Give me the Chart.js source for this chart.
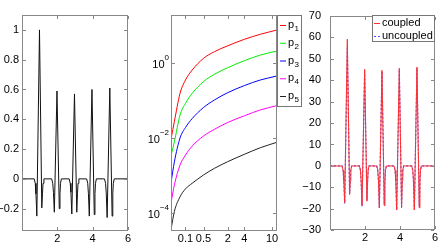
<!DOCTYPE html>
<html>
<head>
<meta charset="utf-8">
<script src="https://cdn.jsdelivr.net/npm/chart.js@4.4.1/dist/chart.umd.min.js"></script>
<style>
  html, body { margin: 0; padding: 0; background: #fff; }
  #wrap { position: relative; width: 440px; height: 246px; overflow: hidden; }
  canvas { position: absolute; top: 0; }
</style>
</head>
<body>
<div id="wrap">
  <canvas id="c1" width="140" height="246" style="left:0px"></canvas>
  <canvas id="c2" width="165" height="246" style="left:140px"></canvas>
  <canvas id="c3" width="145" height="246" style="left:295px"></canvas>
</div>
<script>
// ---- data ----

// left + right panels: time axis of the spike trains
const tSpikes = [0, 0.69, 0.75, 0.79, 0.84, 0.99, 1.12, 1.16, 1.19, 1.24,
  1.68, 1.74, 1.78, 1.83, 1.98, 2.11, 2.15, 2.18, 2.23,
  2.67, 2.73, 2.77, 2.82, 2.97, 3.10, 3.14, 3.17, 3.22,
  3.66, 3.72, 3.76, 3.81, 3.96, 4.09, 4.13, 4.16, 4.21,
  4.67, 4.73, 4.77, 4.82, 4.97, 5.10, 5.14, 5.17, 5.22, 6];

const signal = [0, 0, -0.03, -0.10, -0.25, 1.0, -0.195, -0.10, -0.03, 0,
  0, -0.03, -0.09, -0.224, 0.59, -0.2, -0.1, -0.03, 0,
  0, -0.03, -0.09, -0.236, 0.57, -0.224, -0.1, -0.03, 0,
  0, -0.03, -0.1, -0.25, 0.60, -0.24, -0.1, -0.03, 0,
  0, -0.03, -0.1, -0.26, 0.61, -0.25, -0.1, -0.03, 0, 0];

const coupled = [0, 0, -2, -7, -17, 59, -13.3, -7, -2, 0,
  0, -2, -7, -18.4, 45, -16.4, -7, -2, 0,
  0, -2, -7, -19.5, 44.5, -18.5, -7, -2, 0,
  0, -2, -7, -20.5, 45.5, -19.5, -7, -2, 0,
  0, -2, -7, -20.5, 46, -19.5, -7, -2, 0, 0];

const uncoupled = [0, 0, -2, -7, -17.5, 55.5, -13, -7, -2, 0,
  0, -2, -7, -18.8, 44, -16, -7, -2, 0,
  0, -2, -7, -19.5, 44, -18, -7, -2, 0,
  0, -2, -7, -20.5, 45, -19, -7, -2, 0,
  0, -2, -7, -20.5, 45.5, -19, -7, -2, 0, 0];

// middle panel: growth curves on a log axis
const tGrowth = [0.0105, 0.02, 0.05, 0.1, 0.2, 0.5, 1, 2, 4, 7, 11.5];
const p1 = [0.01, 0.0275, 0.155, 0.352, 0.65, 1.33, 2.0, 2.88, 4.27, 5.82, 7.59];
const p2 = [0.0036, 0.0079, 0.041, 0.084, 0.155, 0.318, 0.5, 0.75, 1.15, 1.63, 2.09];
const p3 = [0.0007, 0.0023, 0.01, 0.019, 0.033, 0.065, 0.103, 0.162, 0.249, 0.352, 0.45];
const p4 = [0.0002, 0.00056, 0.0019, 0.0035, 0.0061, 0.0113, 0.017, 0.026, 0.039, 0.056, 0.073];
const p5 = [0.000039, 0.00011, 0.00027, 0.00044, 0.00062, 0.00103, 0.00155, 0.00234, 0.00366, 0.0055, 0.0077];
const growthNames = ['p_1', 'p_2', 'p_3', 'p_4', 'p_5'];

// tick labels
const xTicksSpikes = [2, 4, 6];
const yTicksLeft = [-0.2, 0, 0.2, 0.4, 0.6, 0.8, 1];
const xTicksGrowth = [0.1, 0.5, 2, 4, 10];
const yTicksGrowth = [1e-4, 1e-2, 1];
const yTicksRight = [-30, -20, -10, 0, 10, 20, 30, 40, 50, 60, 70];

const FONT = "'Liberation Sans', Arial, sans-serif";
Chart.defaults.font.family = FONT;
Chart.defaults.font.size = 11;
Chart.defaults.color = '#000';

const minus = v => (v < 0 ? '\u2212' + Math.abs(v) : String(v));
const pts = (xs, ys) => xs.map((x, i) => ({ x: x, y: ys[i] }));

// power-law x axis used by the middle panel
const POW = 0.3;
class PowerScale extends Chart.LinearScale {
  getPixelForValue(value) {
    if (value === null || value === undefined) return NaN;
    const f = v => Math.pow(Math.max(v, 0), POW);
    return this.getPixelForDecimal((f(value) - f(this.min)) / (f(this.max) - f(this.min)));
  }
  getValueForPixel(pixel) {
    const d = this.getDecimalForPixel(pixel);
    const f0 = Math.pow(this.min, POW), f1 = Math.pow(this.max, POW);
    return Math.pow(f0 + d * (f1 - f0), 1 / POW);
  }
}
PowerScale.id = 'power';
PowerScale.defaults = Chart.LinearScale.defaults;
Chart.register(PowerScale);

// matlab-ish box, inward ticks, boxed legend, 10^n labels
const matlabAxes = {
  id: 'matlabAxes',
  afterDraw(chart, args, opts) {
    const ctx = chart.ctx, a = chart.chartArea;
    const xs = chart.scales.x, ys = chart.scales.y;
    const L0 = Math.round(a.left), R0 = Math.round(a.right) - 1;
    const T0 = Math.round(a.top), B0 = Math.round(a.bottom) - 1;
    ctx.save();
    ctx.fillStyle = '#888';
    // box
    ctx.fillRect(L0, T0, R0 - L0 + 1, 1);
    ctx.fillRect(L0, B0, R0 - L0 + 1, 1);
    ctx.fillRect(L0, T0, 1, B0 - T0 + 1);
    ctx.fillRect(R0, T0, 1, B0 - T0 + 1);
    // inward ticks on all four sides
    xs.ticks.forEach(t => {
      const px = Math.round(xs.getPixelForValue(t.value));
      ctx.fillRect(px, B0 - 3, 1, 3);
      ctx.fillRect(px, T0 + 1, 1, 3);
    });
    ys.ticks.forEach(t => {
      const py = Math.round(ys.getPixelForValue(t.value));
      ctx.fillRect(L0 + 1, py, 3, 1);
      ctx.fillRect(R0 - 3, py, 3, 1);
    });

    if (opts.expLabels) {
      ctx.fillStyle = '#000';
      ctx.textAlign = 'right';
      ctx.textBaseline = 'middle';
      ys.ticks.forEach(t => {
        const py = ys.getPixelForValue(t.value);
        const e = minus(Math.round(Math.log10(t.value)));
        ctx.font = '8px ' + FONT;
        const ew = ctx.measureText(e).width;
        const right = a.left - 2;
        ctx.fillText(e, right, py - 5);
        ctx.font = '11px ' + FONT;
        ctx.fillText('10', right - ew, py + 2);
      });
    }

    const L = opts.legend;
    if (L) {
      ctx.fillStyle = '#fff';
      ctx.fillRect(L.x, L.y, L.w, L.h);
      ctx.strokeStyle = '#777';
      ctx.lineWidth = 1;
      ctx.strokeRect(L.x + 0.5, L.y + 0.5, L.w - 1, L.h - 1);
      ctx.textAlign = 'left';
      ctx.textBaseline = 'middle';
      chart.data.datasets.forEach((ds, i) => {
        const y = L.row0 + i * L.step;
        ctx.strokeStyle = ds.borderColor;
        ctx.setLineDash(ds.borderDash || []);
        ctx.beginPath();
        ctx.moveTo(L.x + L.line0, y + 0.5);
        ctx.lineTo(L.x + L.line1, y + 0.5);
        ctx.stroke();
        ctx.setLineDash([]);
        const parts = ds.label.split('_');
        ctx.fillStyle = '#000';
        ctx.font = '11px ' + FONT;
        ctx.fillText(parts[0], L.x + L.text, y);
        if (parts[1]) {
          const w = ctx.measureText(parts[0]).width;
          ctx.font = '8px ' + FONT;
          ctx.fillText(parts[1], L.x + L.text + w + 0.5, y + 4);
        }
      });
    }
    ctx.restore();
  }
};

function axisX(min, max, ticks, type) {
  return {
    type: type || 'linear', min: min, max: max,
    grid: { display: false, drawTicks: false }, border: { display: false },
    afterBuildTicks: s => { s.ticks = ticks.map(v => ({ value: v })); },
    afterFit: s => { s.height = 15; },
    ticks: { padding: 1, autoSkip: false, maxRotation: 0, callback: v => minus(v) }
  };
}
function axisY(min, max, ticks, width, pad, type, cb) {
  return {
    type: type || 'linear', min: min, max: max,
    grid: { display: false, drawTicks: false }, border: { display: false },
    afterBuildTicks: s => { s.ticks = ticks.map(v => ({ value: v })); },
    afterFit: s => { s.width = width; },
    ticks: { padding: pad, autoSkip: false, callback: cb || (v => minus(v)) }
  };
}
const base = {
  responsive: false,
  animation: false,
  events: [],
  plugins: { legend: { display: false }, tooltip: { enabled: false } },
  elements: { point: { radius: 0 }, line: { borderWidth: 1, tension: 0 } }
};

// left panel
new Chart(document.getElementById('c1'), {
  type: 'line',
  data: { datasets: [{ data: pts(tSpikes, signal), borderColor: '#111' }] },
  options: Object.assign({}, base, {
    layout: { padding: { top: 15, right: 12, bottom: 0, left: 0 } },
    scales: {
      x: axisX(0, 6, xTicksSpikes),
      y: axisY(-0.35, 1.1, yTicksLeft, 22, 3)
    },
    plugins: Object.assign({}, base.plugins, { matlabAxes: {} })
  }),
  plugins: [matlabAxes]
});

// middle panel
const growthColors = ['#ff0000', '#00ee00', '#0000ff', '#ff00ff', '#222'];
new Chart(document.getElementById('c2'), {
  type: 'line',
  data: {
    datasets: [p1, p2, p3, p4, p5].map((ys, i) => ({
      label: growthNames[i], data: pts(tGrowth, ys),
      borderColor: growthColors[i], cubicInterpolationMode: 'monotone'
    }))
  },
  options: Object.assign({}, base, {
    layout: { padding: { top: 15, right: 28, bottom: 0, left: 0 } },
    scales: {
      x: axisX(0.01, 11.5, xTicksGrowth, 'power'),
      y: axisY(3.31e-5, 19.05, yTicksGrowth, 31, 3, 'logarithmic', () => '')
    },
    plugins: Object.assign({}, base.plugins, {
      matlabAxes: {
        expLabels: true,
        legend: { x: 137, y: 15, w: 25, h: 92, row0: 25, step: 17.75, line0: 3, line1: 9, text: 11 }
      }
    })
  }),
  plugins: [matlabAxes]
});

// right panel
new Chart(document.getElementById('c3'), {
  type: 'line',
  data: {
    datasets: [
      { label: 'coupled', data: pts(tSpikes, coupled), borderColor: '#ff3030' },
      { label: 'uncoupled', data: pts(tSpikes, uncoupled), borderColor: '#5050ff', borderDash: [2, 2], borderWidth: 1.2 }
    ]
  },
  options: Object.assign({}, base, {
    layout: { padding: { top: 15, right: 5, bottom: 0, left: 0 } },
    scales: {
      x: axisX(0, 6, xTicksSpikes),
      y: axisY(-30, 70, yTicksRight, 35, 9)
    },
    plugins: Object.assign({}, base.plugins, {
      matlabAxes: {
        legend: { x: 77, y: 15, w: 63, h: 27, row0: 23, step: 13, line0: 2, line1: 8, text: 10 }
      }
    })
  }),
  plugins: [matlabAxes]
});
</script>
</body>
</html>
